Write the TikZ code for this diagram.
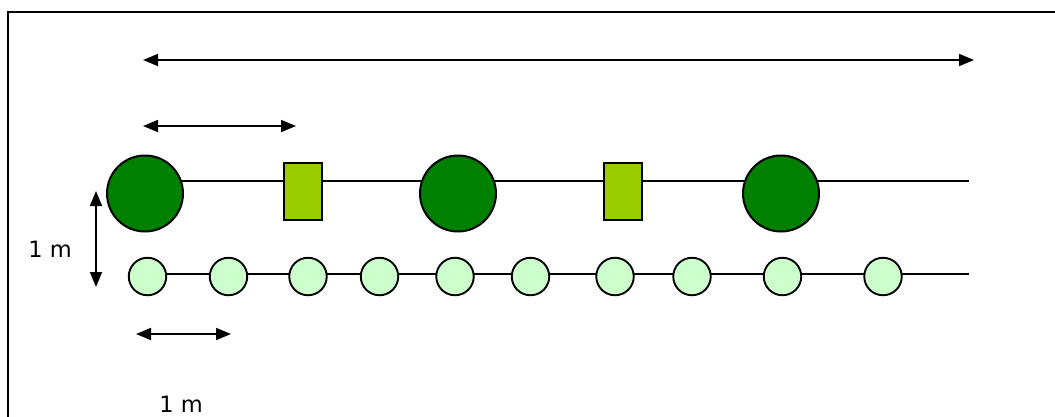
\documentclass[tikz,border=0pt]{standalone}
\usepackage{fontspec}
\setmainfont{DejaVu Sans}
\usetikzlibrary{arrows.meta}
\definecolor{bigtree}{HTML}{008000}
\definecolor{shrub}{HTML}{99CC00}
\definecolor{small}{HTML}{CCFFCC}
\tikzset{
  bigc/.style={circle,draw=black,line width=2pt,fill=bigtree,minimum size=76pt,inner sep=0pt},
  rbox/.style={rectangle,draw=black,line width=2pt,fill=shrub,minimum width=38pt,minimum height=57pt,inner sep=0pt},
  smc/.style={circle,draw=black,line width=1.9pt,fill=small,minimum size=37.5pt,inner sep=0pt},
  rowline/.style={line width=1.8pt},
  dim/.style={line width=1.8pt,{Triangle[length=15pt,width=12pt]}-{Triangle[length=15pt,width=12pt]}},
  lbl/.style={font=\fontsize{22.5pt}{26pt}\selectfont,inner sep=0pt}
}
\begin{document}
\begin{tikzpicture}[x=1pt,y=-1pt]
\useasboundingbox (0,0) rectangle (1055,416);
\fill[white] (0,0) rectangle (1055,416);
\draw[line width=2pt] (8,12) rectangle (1070,430);
% row lines
\coordinate (t0) at (145,181);
\coordinate (t1) at (969,181);
\coordinate (s0) at (147,274);
\coordinate (s1) at (969,274);
\draw[rowline] (t0) -- (t1);
\draw[rowline] (s0) -- (s1);
% top row
\node[bigc] (b1) at (145,193.5) {};
\node[rbox] (r1) at (302.5,191) {};
\node[bigc] (b2) at (458,193.5) {};
\node[rbox] (r2) at (623,191) {};
\node[bigc] (b3) at (781,193.5) {};
% bottom row
\foreach \i/\x in {1/147.5,2/228.5,3/308,4/379.5,5/455,6/530.5,7/615,8/692,9/782.5,10/883}
  \node[smc] (s\i) at (\x,276.5) {};
% dimension arrows
\coordinate (a1) at (143,60);
\coordinate (a2) at (974,60);
\coordinate (a3) at (143,126);
\coordinate (a4) at (296,126);
\coordinate (v1) at (96,191);
\coordinate (v2) at (96,287);
\coordinate (h1) at (136,334);
\coordinate (h2) at (231,334);
\draw[dim] (a1) -- (a2);
\draw[dim] (a3) -- (a4);
\draw[dim] (v1) -- (v2);
\draw[dim] (h1) -- (h2);
\node[lbl] (l1) at (50,249) {1 m};
\node[lbl] (l2) at (181,404) {1 m};
\end{tikzpicture}
\end{document}
